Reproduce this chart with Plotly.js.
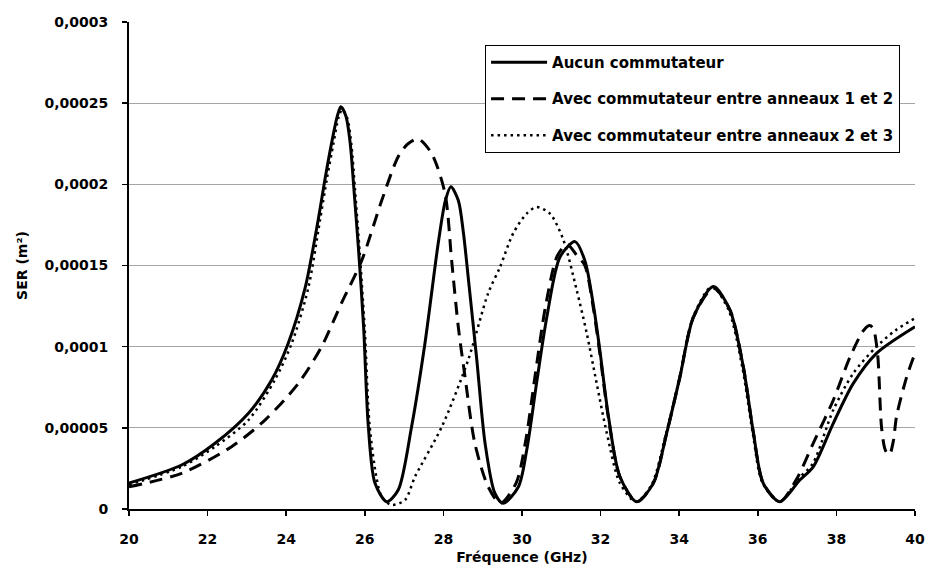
<!DOCTYPE html>
<html>
<head>
<meta charset="utf-8">
<script src="https://cdn.plot.ly/plotly-3.0.1.min.js"></script>
<style>
  html, body { margin: 0; padding: 0; background: #ffffff; }
  #chart { width: 926px; height: 570px; }
</style>
</head>
<body>
<div id="chart"></div>
<script>
// ---- Data ----
var seriesNames = [
  "Aucun commutateur",
  "Avec commutateur entre anneaux 1 et 2",
  "Avec commutateur entre anneaux 2 et 3"
];

// Aucun commutateur
var freqSolid = [20, 21.34, 22.19, 23.04, 23.63, 24.05, 24.48, 24.82, 25.0, 25.16, 25.3, 25.39, 25.52, 25.63, 25.72, 25.84, 25.97, 26.09, 26.26, 26.56, 26.85, 27.19, 27.53, 27.87, 28.05, 28.19, 28.38, 28.51, 28.63, 28.85, 29.06, 29.31, 29.52, 29.91, 30.12, 30.37, 30.63, 30.97, 31.35, 31.6, 31.82, 31.98, 32.2, 32.49, 32.92, 33.34, 33.68, 34.02, 34.36, 34.87, 35.29, 35.63, 35.89, 36.14, 36.56, 37.07, 37.41, 37.92, 38.43, 39.02, 40];
var serSolid = [1.6e-5, 2.71e-5, 4.05e-5, 5.9e-5, 7.95e-5, 1.02e-4, 1.36e-4, 1.79e-4, 2.05e-4, 2.26e-4, 2.42e-4, 2.478e-4, 2.42e-4, 2.25e-4, 1.98e-4, 1.6e-4, 1.12e-4, 5.07e-5, 1.58e-5, 4.5e-6, 1.17e-5, 5.07e-5, 1.02e-4, 1.64e-4, 1.9e-4, 1.985e-4, 1.9e-4, 1.7e-4, 1.43e-4, 9.18e-5, 4.05e-5, 9.7e-6, 3.5e-6, 1.37e-5, 3.63e-5, 7.74e-5, 1.18e-4, 1.554e-4, 1.647e-4, 1.53e-4, 1.25e-4, 9.8e-5, 5.7e-5, 2.0e-5, 4.5e-6, 1.58e-5, 4.66e-5, 8.15e-5, 1.18e-4, 1.37e-4, 1.226e-4, 8.77e-5, 4.66e-5, 1.58e-5, 4.5e-6, 1.79e-5, 2.6e-5, 5.28e-5, 7.74e-5, 9.59e-5, 1.123e-4];

// Avec commutateur entre anneaux 1 et 2
var freqDash = [20, 21.34, 22.61, 23.46, 24.31, 24.9, 25.41, 25.92, 26.43, 26.85, 27.1, 27.36, 27.7, 28.04, 28.21, 28.38, 28.55, 28.8, 29.14, 29.45, 29.85, 30.1, 30.35, 30.6, 30.9, 31.15, 31.4, 31.6, 31.82, 31.98, 32.2, 32.49, 32.92, 33.34, 33.68, 34.02, 34.36, 34.87, 35.29, 35.63, 35.89, 36.14, 36.56, 37.0, 37.41, 37.92, 38.35, 38.69, 38.85, 38.94, 39.05, 39.15, 39.25, 39.35, 39.45, 39.53, 39.79, 40];
var serDash = [1.37e-5, 2.2e-5, 3.84e-5, 5.48e-5, 7.74e-5, 1.0e-4, 1.27e-4, 1.53e-4, 1.9e-4, 2.17e-4, 2.25e-4, 2.28e-4, 2.19e-4, 1.945e-4, 1.53e-4, 1.12e-4, 8.15e-5, 4.05e-5, 1.37e-5, 3.5e-6, 1.6e-5, 4.3e-5, 8.5e-5, 1.25e-4, 1.56e-4, 1.63e-4, 1.56e-4, 1.5e-4, 1.23e-4, 9.6e-5, 5.6e-5, 2.0e-5, 4.5e-6, 1.58e-5, 4.66e-5, 8.15e-5, 1.18e-4, 1.36e-4, 1.226e-4, 8.77e-5, 4.66e-5, 1.58e-5, 4.5e-6, 1.9e-5, 4.05e-5, 6.7e-5, 9.38e-5, 1.1e-4, 1.13e-4, 1.11e-4, 9.5e-5, 5.0e-5, 3.6e-5, 3.35e-5, 4.2e-5, 5.7e-5, 8.15e-5, 9.6e-5];

// Avec commutateur entre anneaux 2 et 3
var freqDot = [20, 21.34, 22.19, 23.04, 23.71, 24.14, 24.56, 24.86, 25.04, 25.2, 25.33, 25.42, 25.55, 25.66, 25.75, 25.87, 26.0, 26.12, 26.3, 26.43, 26.68, 27.02, 27.28, 27.96, 28.63, 29.14, 29.44, 29.78, 30.12, 30.37, 30.71, 31.05, 31.39, 31.65, 31.9, 32.16, 32.49, 32.9, 33.3, 33.65, 34.0, 34.35, 34.83, 35.25, 35.6, 35.87, 36.12, 36.55, 37.05, 37.4, 37.92, 38.43, 39.02, 39.5, 40];
var serDot = [1.5e-5, 2.6e-5, 3.84e-5, 5.48e-5, 7.95e-5, 1.02e-4, 1.36e-4, 1.78e-4, 2.04e-4, 2.25e-4, 2.41e-4, 2.46e-4, 2.41e-4, 2.24e-4, 1.97e-4, 1.58e-4, 1.1e-4, 5.2e-5, 1.9e-5, 7.6e-6, 2.5e-6, 5.5e-6, 2.0e-5, 5.07e-5, 9.18e-5, 1.33e-4, 1.49e-4, 1.7e-4, 1.82e-4, 1.86e-4, 1.82e-4, 1.66e-4, 1.35e-4, 1.08e-4, 7.74e-5, 4.66e-5, 1.6e-5, 4.5e-6, 1.5e-5, 4.5e-5, 8.0e-5, 1.18e-4, 1.37e-4, 1.23e-4, 8.8e-5, 4.7e-5, 1.6e-5, 4.5e-6, 1.9e-5, 2.8e-5, 6.1e-5, 8.36e-5, 1.0e-4, 1.1e-4, 1.175e-4];

var xTickVals = [20, 22, 24, 26, 28, 30, 32, 34, 36, 38, 40];
var yTickVals = [0, 0.00005, 0.0001, 0.00015, 0.0002, 0.00025, 0.0003];
var yTickText = ["0", "0,00005", "0,0001", "0,00015", "0,0002", "0,00025", "0,0003"];

var xTitle = "Fréquence (GHz)";
var yTitle = "SER (m²)";

// ---- Chart ----
var FONT = "DejaVu Sans, Verdana, sans-serif";

var traces = [
  {
    x: freqSolid, y: serSolid, name: seriesNames[0], type: "scatter", mode: "lines",
    legendgroup: "a",
    line: { color: "#000000", width: 3, shape: "spline", smoothing: 0.8 }
  },
  {
    x: freqDash, y: serDash, name: seriesNames[1], type: "scatter", mode: "lines",
    legendgroup: "b",
    line: { color: "#000000", width: 3, dash: "13px,8px", shape: "spline", smoothing: 0.8 }
  },
  {
    x: freqDot, y: serDot, name: seriesNames[2], type: "scatter", mode: "lines",
    legendgroup: "c",
    line: { color: "#000000", width: 2.5, dash: "2.5px,4px", shape: "spline", smoothing: 0.8 }
  }
];

var layout = {
  width: 926,
  height: 570,
  paper_bgcolor: "#ffffff",
  plot_bgcolor: "#ffffff",
  margin: { l: 129, r: 11, t: 22, b: 61 },
  font: { family: FONT, size: 14, color: "#000000", weight: "bold" },
  showlegend: true,
  legend: {
    x: 0.453, y: 0.953, xanchor: "left", yanchor: "top",
    bgcolor: "#ffffff", bordercolor: "#000000", borderwidth: 1,
    font: { family: FONT, size: 15, color: "#000000", weight: "bold" },
    traceorder: "grouped", tracegroupgap: 14,
    itemwidth: 56
  },
  xaxis: {
    range: [20, 40],
    tickvals: xTickVals,
    ticks: "outside", ticklen: 5, tickwidth: 1.5, tickcolor: "#000000",
    ticklabelstandoff: 11,
    showline: true, linecolor: "#000000", linewidth: 2,
    showgrid: false, zeroline: false,
    tickfont: { family: FONT, size: 14, color: "#000000", weight: "bold" },
    title: { text: xTitle, font: { family: FONT, size: 14, color: "#000000", weight: "bold" }, standoff: 6 }
  },
  yaxis: {
    range: [0, 0.0003],
    tickvals: yTickVals, ticktext: yTickText,
    ticks: "outside", ticklen: 5, tickwidth: 1.5, tickcolor: "#000000",
    ticklabelstandoff: 11,
    showline: true, linecolor: "#000000", linewidth: 2,
    showgrid: true, gridcolor: "#a6a6a6", gridwidth: 1,
    zeroline: false,
    tickfont: { family: FONT, size: 14, color: "#000000", weight: "bold" },
    title: { text: yTitle, font: { family: FONT, size: 14, color: "#000000", weight: "bold" }, standoff: 14 }
  }
};

Plotly.newPlot("chart", traces, layout, { displayModeBar: false, staticPlot: true });
</script>
</body>
</html>
